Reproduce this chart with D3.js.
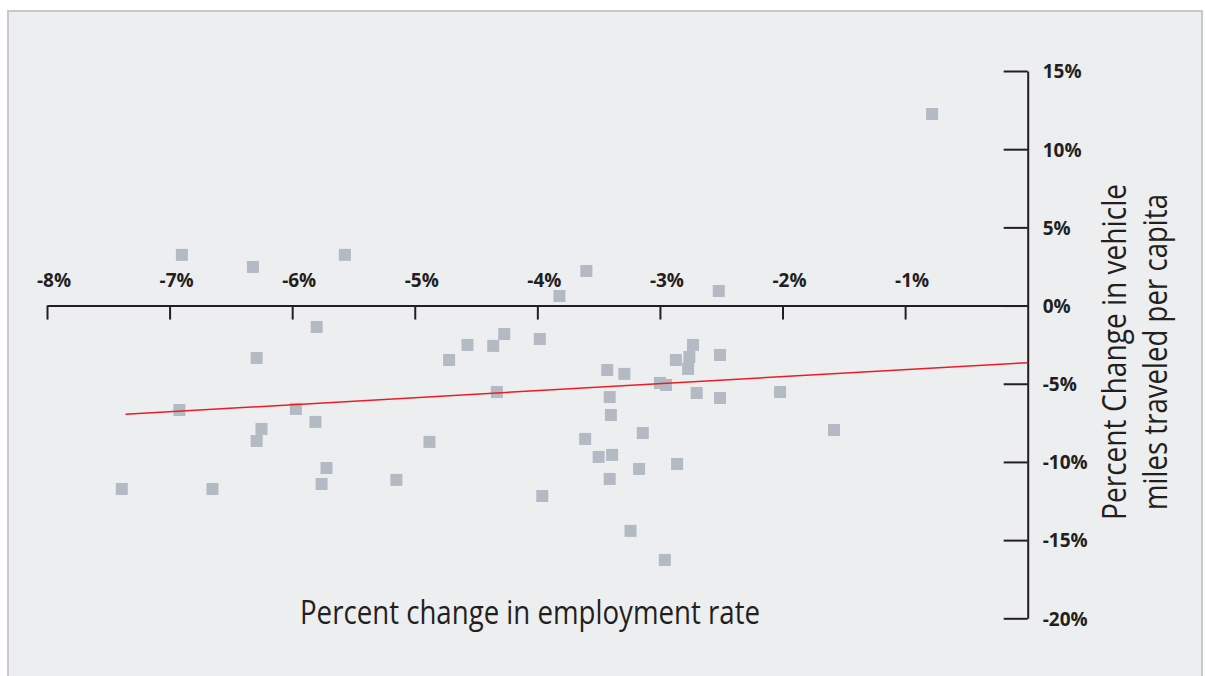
<!DOCTYPE html>
<html>
<head>
<meta charset="utf-8">
<script src="https://cdn.jsdelivr.net/npm/d3@7"></script>
<style>
  body { margin: 0; background: #fff; }
  .tick text { font-family: "Open Sans", sans-serif; font-weight: 700; font-size: 19px; fill: #231f20; }
  .axis-title { font-family: "Open Sans", sans-serif; font-weight: 400; fill: #231f20; }
</style>
</head>
<body>
<div id="chart"></div>
<script>
// percent change in employment rate (x) and in vehicle miles traveled per capita (y)
const employmentChange = [
  -6.90, -6.32, -5.57, -5.80, -6.29, -6.92, -5.97, -5.81, -6.25, -6.29,
  -5.72, -5.76, -7.39, -6.65, -3.82, -4.27, -4.57, -4.36, -3.98, -4.72,
  -4.33, -4.88, -5.15, -3.96, -3.60, -2.52, -2.73, -2.76, -2.87, -2.77,
  -2.51, -3.43, -3.29, -3.00, -2.95, -3.41, -2.70, -2.51, -2.02, -3.40,
  -3.14, -3.61, -3.50, -3.39, -3.17, -2.86, -3.41, -3.24, -2.96, -0.78,
  -1.58
];
const vmtChange = [
  3.24, 2.47, 3.24, -1.37, -3.35, -6.68, -6.61, -7.44, -7.89, -8.66,
  -10.39, -11.41, -11.73, -11.73, 0.61, -1.82, -2.52, -2.58, -2.14, -3.48,
  -5.53, -8.72, -11.15, -12.18, 2.21, 0.93, -2.52, -3.29, -3.48, -4.05,
  -3.16, -4.12, -4.37, -4.95, -5.08, -5.85, -5.59, -5.91, -5.53, -7.00,
  -8.15, -8.53, -9.68, -9.55, -10.45, -10.13, -11.09, -14.41, -16.27, 12.25,
  -7.96
];
const xTicks = [-8, -7, -6, -5, -4, -3, -2, -1];
const yTicks = [15, 10, 5, 0, -5, -10, -15, -20];
// fitted trend line end points
const trendX = [-7.36, 0];
const trendY = [-6.95, -3.65];

const margin = { top: 71, right: 178.3, bottom: 57.7, left: 47 };
const width = 1206 - margin.left - margin.right;
const height = 676 - margin.top - margin.bottom;

const root = d3.select("#chart")
  .append("svg")
  .attr("width", 1206)
  .attr("height", 676);

// panel background
root.append("rect")
  .attr("x", 8)
  .attr("y", 11)
  .attr("width", 1194)
  .attr("height", 700)
  .attr("fill", "#edeef0")
  .attr("stroke", "#c5cad1")
  .attr("stroke-width", 2);

const svg = root.append("g")
  .attr("transform", `translate(${margin.left},${margin.top})`);

const xScale = d3.scaleLinear().domain([-8, 0]).range([0, width]);
const yScale = d3.scaleLinear().domain([-20, 15]).range([height, 0]);

const pct = d => d + "%";

// x axis sits on the 0% line, labels above
const xAxis = svg.append("g")
  .attr("transform", `translate(0,${yScale(0)})`)
  .call(d3.axisBottom(xScale).tickValues(xTicks).tickFormat(pct).tickSize(14).tickSizeOuter(0));
xAxis.select(".domain").attr("stroke", "#231f20").attr("stroke-width", 2);
xAxis.selectAll(".tick line").attr("stroke", "#231f20").attr("stroke-width", 2);
xAxis.selectAll(".tick text").attr("y", -19).attr("dy", 0).attr("dx", 6.5);

// y axis sits on the 0% employment line, labels to the right
const yAxis = svg.append("g")
  .attr("transform", `translate(${xScale(0)},0)`)
  .call(d3.axisLeft(yScale).tickValues(yTicks).tickFormat(pct).tickSize(24).tickSizeOuter(0));
yAxis.select(".domain").attr("stroke", "#231f20").attr("stroke-width", 2);
yAxis.selectAll(".tick line").attr("stroke", "#231f20").attr("stroke-width", 2);
yAxis.selectAll(".tick text").attr("x", 15).attr("text-anchor", "start").attr("dy", "0.36em");

// points
svg.selectAll("rect.pt")
  .data(employmentChange.map((x, i) => [x, vmtChange[i]]))
  .enter()
  .append("rect")
  .attr("class", "pt")
  .attr("x", d => xScale(d[0]) - 6)
  .attr("y", d => yScale(d[1]) - 6)
  .attr("width", 12)
  .attr("height", 12)
  .attr("fill", "#b3bac4");

// trend line
svg.append("line")
  .attr("x1", xScale(trendX[0]))
  .attr("y1", yScale(trendY[0]))
  .attr("x2", xScale(trendX[1]))
  .attr("y2", yScale(trendY[1]))
  .attr("stroke", "#ed1c24")
  .attr("stroke-width", 1.5);

// axis titles
root.append("text")
  .attr("class", "axis-title")
  .attr("x", 530)
  .attr("y", 624)
  .attr("text-anchor", "middle")
  .attr("font-size", 32)
  .attr("textLength", 460)
  .attr("lengthAdjust", "spacingAndGlyphs")
  .text("Percent change in employment rate");

const yTitle = root.append("text")
  .attr("class", "axis-title")
  .attr("transform", "translate(0,352) rotate(-90)")
  .attr("text-anchor", "middle")
  .attr("font-size", 32);
yTitle.append("tspan")
  .attr("x", 0).attr("y", 1126)
  .attr("textLength", 336).attr("lengthAdjust", "spacingAndGlyphs")
  .text("Percent Change in vehicle");
yTitle.append("tspan")
  .attr("x", 0).attr("y", 1167)
  .attr("textLength", 316).attr("lengthAdjust", "spacingAndGlyphs")
  .text("miles traveled per capita");
</script>
</body>
</html>
